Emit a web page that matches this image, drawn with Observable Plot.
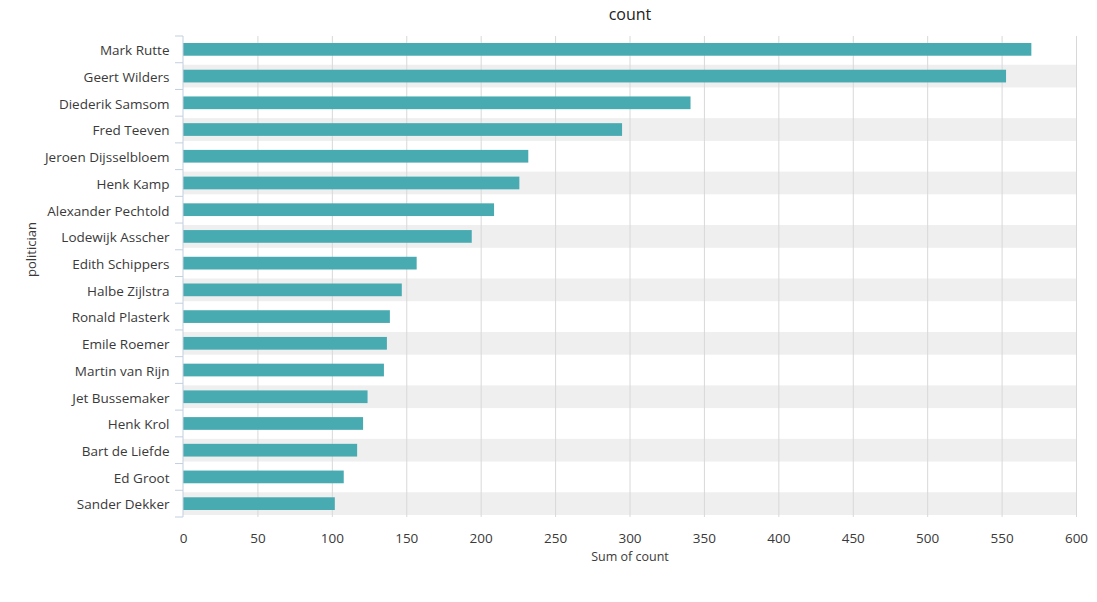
<!DOCTYPE html>
<html>
<head>
<meta charset="utf-8">
<script src="https://cdn.jsdelivr.net/npm/d3@7"></script>
<script src="https://cdn.jsdelivr.net/npm/@observablehq/plot@0.6"></script>
<style>
  html, body { margin: 0; padding: 0; background: #fff; }
  svg { display: block; }
</style>
</head>
<body>
<div id="chart"></div>
<script>
const politicians = [
  "Mark Rutte", "Geert Wilders", "Diederik Samsom", "Fred Teeven",
  "Jeroen Dijsselbloem", "Henk Kamp", "Alexander Pechtold", "Lodewijk Asscher",
  "Edith Schippers", "Halbe Zijlstra", "Ronald Plasterk", "Emile Roemer",
  "Martin van Rijn", "Jet Bussemaker", "Henk Krol", "Bart de Liefde",
  "Ed Groot", "Sander Dekker"
];
const counts = [570, 553, 341, 295, 232, 226, 209, 194, 157, 147, 139, 137, 135, 124, 121, 117, 108, 102];
const xTicks = [0, 50, 100, 150, 200, 250, 300, 350, 400, 450, 500, 550, 600];

const data = politicians.map((name, i) => ({name, count: counts[i], i}));
const banded = data.filter(d => d.i % 2 === 1);

const FONT = "'Open Sans', Lato, sans-serif";
const TEXT = "#3a3a3a";

const chart = Plot.plot({
  width: 1097,
  height: 602,
  marginTop: 36,
  marginBottom: 85,
  marginLeft: 183,
  marginRight: 21,
  style: {fontFamily: FONT, fontSize: "13.5px", color: TEXT, background: "#fff"},
  x: {domain: [0, 600], label: null},
  y: {domain: politicians, padding: 0, round: false, label: null},
  marks: [
    Plot.cell(banded, {y: "name", fill: "#efefef", insetTop: 2, insetBottom: 2}),
    Plot.gridX({ticks: xTicks.filter(t => t > 0), stroke: "#d8d8d8", strokeOpacity: 1}),
    Plot.barX(data, {y: "name", x: "count", fill: "#48abb1", insetTop: 7, insetBottom: 7}),
    Plot.axisX({ticks: xTicks, tickSize: 0, tickPadding: 16, fontSize: 13.5, fill: TEXT, label: null}),
    Plot.axisY({tickSize: 0, tickPadding: 14, fontSize: 13.5, fill: TEXT, label: null, dy: 1}),
    Plot.text(["count"], {frameAnchor: "top", lineAnchor: "middle", dy: -22, fontSize: 16, fill: "#222"}),
    Plot.text(["Sum of count"], {frameAnchor: "bottom", lineAnchor: "middle", dy: 39, fontSize: 12.5, fill: TEXT}),
    Plot.text(["politician"], {frameAnchor: "left", dx: -152, rotate: -90, fontSize: 13, fill: TEXT})
  ]
});

// y axis line and ticks at category boundaries, from the plot's own scales
const y = chart.scale("y");
const x = chart.scale("x");
const svg = d3.select(chart);
const x0 = x.apply(0);
const bw = y.bandwidth;
const bounds = politicians.map(p => y.apply(p)).concat([y.apply(politicians[politicians.length - 1]) + bw]);
const g = svg.append("g").attr("stroke", "#c3cfdf").attr("stroke-width", 1);
g.append("line").attr("x1", x0).attr("x2", x0).attr("y1", bounds[0]).attr("y2", bounds[bounds.length - 1]);
bounds.forEach(b => {
  g.append("line").attr("x1", x0 - 8).attr("x2", x0).attr("y1", b).attr("y2", b);
});

document.getElementById("chart").appendChild(chart);
</script>
</body>
</html>
